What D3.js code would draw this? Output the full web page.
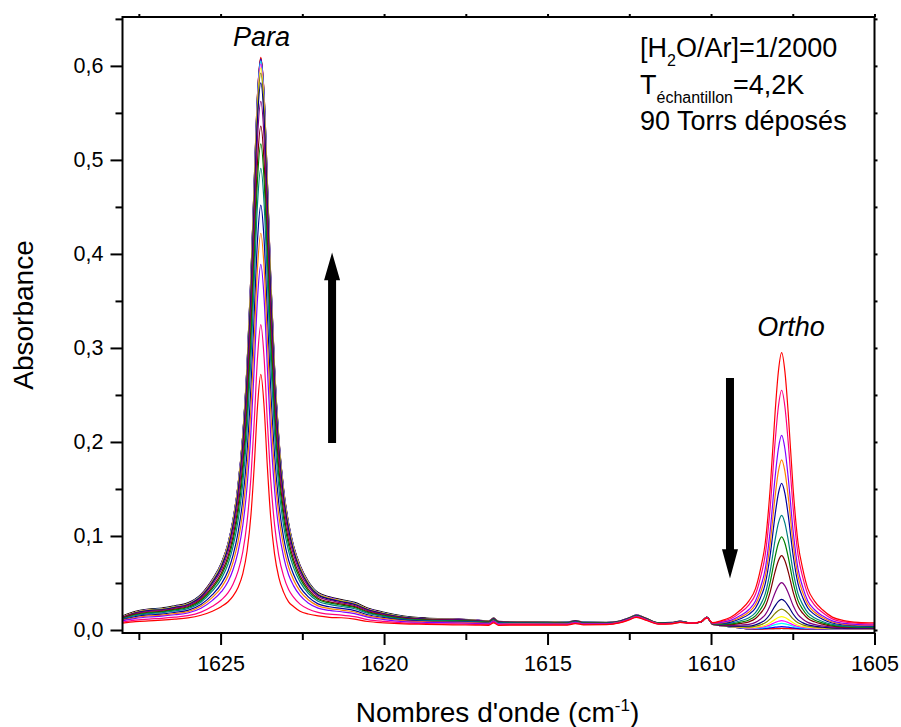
<!DOCTYPE html>
<html><head><meta charset="utf-8">
<script src="https://cdn.jsdelivr.net/npm/d3@7"></script>
<style>
body{margin:0;background:#fff;}
svg text{font-family:"Liberation Sans",Arial,Helvetica,sans-serif;fill:#000;}
</style></head><body>
<svg id="chart" width="901" height="727"></svg>
<script>
// ---------- DATA ----------
const wavenumbers = [1628.0,1627.6,1627.2,1626.8,1626.4,1626.0,1625.6,1625.25,1624.97,1624.77,1624.62,1624.47,1624.32,1624.19,1624.07,1623.97,1623.87,1623.77,1623.67,1623.57,1623.47,1623.35,1623.22,1623.07,1622.92,1622.77,1622.57,1622.32,1622.02,1621.67,1621.3,1620.9,1620.5,1620.0,1619.4,1618.7,
1617.9,1617.2,1616.8,1616.65,1616.5,1615.8,1615.0,1614.4,1614.15,1613.9,1613.2,1612.8,1612.5,1612.28,1612.0,1611.6,1611.2,1610.95,1610.6,1610.3,1610.13,1609.95,
1609.7,1609.4,1609.1,1608.84,1608.64,1608.49,1608.34,1608.19,1608.04,1607.94,1607.84,1607.74,1607.64,1607.49,1607.34,1607.19,1607.04,1606.84,1606.59,1606.29,1605.94,1605.5,1605.0];

const specRed = [0.0074,0.0088,0.0097,0.0105,0.0115,0.0128,0.0157,0.020,0.025,0.030,0.036,0.045,0.060,0.084,0.123,0.175,0.238,0.272,0.238,0.174,0.121,0.081,0.056,0.040,0.030,0.025,0.020,0.017,0.015,0.0135,0.013,0.0115,0.009,0.0075,0.0064,0.006,
0.0055,0.0052,0.005,0.0075,0.005,0.0052,0.0052,0.0052,0.0068,0.0055,0.0057,0.0075,0.0108,0.0135,0.0105,0.0063,0.0065,0.008,0.0072,0.0089,0.0129,0.0078,
0.0098,0.0135,0.0212,0.031,0.044,0.0642,0.0931,0.1508,0.2315,0.2748,0.295,0.2748,0.2315,0.1508,0.0931,0.0642,0.044,0.031,0.0215,0.0137,0.010,0.0082,0.0077];
const specPink = [0.0084,0.0104,0.0116,0.0124,0.0136,0.0152,0.019,0.0252,0.0322,0.0397,0.0487,0.062,0.0832,0.1151,0.1632,0.2226,0.2901,0.3249,0.2901,0.2217,0.1613,0.1121,0.0792,0.057,0.043,0.035,0.0275,0.0223,0.0188,0.0168,0.0159,0.0142,0.0111,0.0091,0.0076,0.0069,
0.0064,0.006,0.0057,0.0083,0.0056,0.0057,0.0057,0.0056,0.0073,0.0059,0.006,0.0078,0.0111,0.0139,0.0108,0.0065,0.0067,0.0082,0.0073,0.0089,0.0131,0.0076,
0.009,0.012,0.0185,0.0268,0.038,0.0555,0.0804,0.1303,0.2001,0.2375,0.255,0.2375,0.2001,0.1303,0.0804,0.0555,0.038,0.0268,0.0186,0.0118,0.0086,0.0071,0.0065];
const specViolet = [0.0097,0.0123,0.0138,0.0147,0.0162,0.0181,0.0231,0.0315,0.041,0.0515,0.0641,0.0825,0.1114,0.1527,0.2118,0.2801,0.3532,0.3889,0.3532,0.2795,0.2102,0.1497,0.1074,0.0775,0.0588,0.0472,0.0367,0.0288,0.0233,0.0208,0.0194,0.0174,0.0137,0.0111,0.009,0.0081,
0.0076,0.007,0.0066,0.0092,0.0064,0.0063,0.0062,0.0062,0.0078,0.0064,0.0064,0.0081,0.0115,0.0143,0.0112,0.0067,0.007,0.0084,0.0072,0.0088,0.0132,0.0073,
0.0081,0.0103,0.0153,0.0218,0.0309,0.0451,0.0653,0.1058,0.1625,0.1928,0.207,0.1928,0.1625,0.1058,0.0653,0.0451,0.0309,0.0218,0.0151,0.0097,0.007,0.0058,0.0054];
const specOrange = [0.0103,0.0133,0.015,0.0158,0.0175,0.0196,0.0252,0.0347,0.0455,0.0576,0.072,0.0931,0.1259,0.1721,0.2369,0.3098,0.3857,0.422,0.3857,0.3093,0.2354,0.1691,0.1219,0.0881,0.0669,0.0535,0.0414,0.0321,0.0257,0.0228,0.0212,0.0191,0.015,0.0122,0.0098,0.0087,
0.0082,0.0076,0.007,0.0097,0.0068,0.0067,0.0065,0.0064,0.0081,0.0066,0.0066,0.0083,0.0117,0.0145,0.0114,0.0068,0.0071,0.0085,0.0072,0.0088,0.0133,0.0071,
0.0076,0.0093,0.0136,0.0191,0.0271,0.0395,0.0572,0.0926,0.1421,0.1686,0.181,0.1686,0.1421,0.0926,0.0572,0.0395,0.0271,0.0191,0.0133,0.0085,0.0062,0.0052,0.0048];
const specRoyal = [0.0109,0.0142,0.016,0.0169,0.0187,0.0209,0.0271,0.0376,0.0496,0.0631,0.0793,0.1027,0.139,0.1897,0.2597,0.3368,0.4153,0.452,0.4153,0.3363,0.2582,0.1867,0.135,0.0977,0.0743,0.0592,0.0456,0.0352,0.0278,0.0247,0.0229,0.0206,0.0162,0.0131,0.0105,0.0092,
0.0087,0.008,0.0074,0.0102,0.0071,0.007,0.0068,0.0067,0.0084,0.0068,0.0068,0.0084,0.0119,0.0147,0.0116,0.0069,0.0072,0.0086,0.0072,0.0088,0.0133,0.007,
0.0072,0.0084,0.012,0.0166,0.0234,0.0341,0.0493,0.0798,0.1225,0.1453,0.156,0.1453,0.1225,0.0798,0.0493,0.0341,0.0234,0.0166,0.0115,0.0074,0.0054,0.0045,0.0043];
const specDarkCyan = [0.0117,0.0154,0.0174,0.0183,0.0203,0.0227,0.0295,0.0415,0.0549,0.0703,0.0887,0.1152,0.1562,0.2127,0.2894,0.372,0.4538,0.491,0.4538,0.3716,0.288,0.2097,0.1522,0.1102,0.084,0.0666,0.0512,0.0391,0.0306,0.0272,0.025,0.0226,0.0178,0.0143,0.0113,0.0099,
0.0094,0.0086,0.0079,0.0108,0.0076,0.0073,0.0072,0.007,0.0088,0.0071,0.0071,0.0086,0.0121,0.015,0.0118,0.0071,0.0073,0.0088,0.0073,0.0088,0.0134,0.0068,
0.0065,0.0073,0.0098,0.013,0.0184,0.0267,0.0386,0.0625,0.0958,0.1137,0.122,0.1137,0.0958,0.0625,0.0386,0.0267,0.0184,0.013,0.0091,0.0059,0.0043,0.0036,0.0035];
const specOlive = [0.0122,0.0162,0.0183,0.0192,0.0213,0.0239,0.0312,0.044,0.0584,0.0751,0.0949,0.1235,0.1676,0.2279,0.3091,0.3953,0.4794,0.517,0.4794,0.395,0.3078,0.2249,0.1636,0.1185,0.0903,0.0715,0.0549,0.0417,0.0324,0.0288,0.0264,0.0239,0.0188,0.0151,0.0119,0.0104,
0.0099,0.0091,0.0083,0.0111,0.0079,0.0076,0.0074,0.0072,0.009,0.0073,0.0072,0.0087,0.0123,0.0152,0.012,0.0072,0.0074,0.0089,0.0072,0.0087,0.0135,0.0067,
0.0062,0.0064,0.0083,0.0107,0.015,0.0218,0.0315,0.0508,0.0778,0.0922,0.099,0.0922,0.0778,0.0508,0.0315,0.0218,0.015,0.0107,0.0075,0.0049,0.0037,0.0031,0.003];
const specWine = [0.0126,0.0168,0.0189,0.0199,0.0221,0.0247,0.0324,0.0458,0.061,0.0785,0.0994,0.1296,0.1759,0.239,0.3234,0.4122,0.498,0.5359,0.498,0.412,0.3222,0.236,0.1719,0.1246,0.095,0.0751,0.0576,0.0436,0.0338,0.0299,0.0275,0.0248,0.0196,0.0157,0.0124,0.0107,
0.0102,0.0093,0.0085,0.0114,0.0081,0.0078,0.0075,0.0074,0.0091,0.0075,0.0073,0.0088,0.0124,0.0153,0.0121,0.0072,0.0075,0.0089,0.0073,0.0087,0.0135,0.0065,
0.0058,0.0058,0.007,0.0087,0.0122,0.0176,0.0252,0.0406,0.0621,0.0736,0.079,0.0736,0.0621,0.0406,0.0252,0.0176,0.0122,0.0087,0.0062,0.0041,0.0031,0.0027,0.0026];
const specPurple = [0.0131,0.0176,0.0199,0.0208,0.0231,0.0259,0.034,0.0484,0.0646,0.0834,0.1057,0.138,0.1874,0.2545,0.3434,0.4359,0.5239,0.5622,0.5239,0.4357,0.3423,0.2515,0.1834,0.133,0.1015,0.0801,0.0613,0.0463,0.0357,0.0316,0.0289,0.0261,0.0206,0.0165,0.0129,0.0112,
0.0107,0.0098,0.0089,0.0118,0.0084,0.008,0.0078,0.0076,0.0094,0.0077,0.0075,0.009,0.0125,0.0155,0.0122,0.0073,0.0076,0.009,0.0073,0.0086,0.0135,0.0063,
0.0053,0.0048,0.0053,0.0059,0.0081,0.0115,0.0164,0.0261,0.0396,0.0469,0.0503,0.0469,0.0396,0.0261,0.0164,0.0115,0.0081,0.0059,0.0043,0.003,0.0024,0.0021,0.0021];
const specNavy = [0.0135,0.0182,0.0206,0.0215,0.0239,0.0268,0.0353,0.0504,0.0673,0.087,0.1105,0.1444,0.1962,0.2662,0.3585,0.4538,0.5434,0.582,0.5434,0.4537,0.3574,0.2632,0.1922,0.1394,0.1064,0.0839,0.0642,0.0483,0.0371,0.0328,0.03,0.0271,0.0214,0.0172,0.0134,0.0115,
0.011,0.0101,0.0091,0.0121,0.0087,0.0082,0.008,0.0078,0.0096,0.0078,0.0076,0.0091,0.0126,0.0156,0.0123,0.0074,0.0077,0.0091,0.0072,0.0086,0.0135,0.0062,
0.005,0.0042,0.0041,0.0041,0.0055,0.0076,0.0108,0.017,0.0257,0.0304,0.0326,0.0304,0.0257,0.017,0.0108,0.0076,0.0055,0.0041,0.003,0.0022,0.0018,0.0016,0.0017];
const specDarkYellow = [0.0137,0.0185,0.0209,0.0219,0.0243,0.0272,0.0359,0.0514,0.0687,0.0889,0.113,0.1476,0.2006,0.2721,0.3662,0.4629,0.5534,0.5922,0.5534,0.4628,0.3652,0.2691,0.1966,0.1426,0.1089,0.0858,0.0656,0.0493,0.0378,0.0335,0.0306,0.0277,0.0218,0.0175,0.0136,0.0117,
0.0112,0.0102,0.0093,0.0123,0.0088,0.0083,0.0081,0.0079,0.0097,0.0079,0.0077,0.0091,0.0127,0.0157,0.0124,0.0074,0.0077,0.0091,0.0072,0.0085,0.0135,0.0061,
0.0049,0.0039,0.0035,0.0031,0.004,0.0055,0.0076,0.0118,0.0177,0.0208,0.0223,0.0208,0.0177,0.0118,0.0076,0.0055,0.004,0.0031,0.0024,0.0018,0.0016,0.0014,0.0015];
const specYellow = [0.0138,0.0187,0.0211,0.0221,0.0246,0.0275,0.0363,0.0519,0.0695,0.09,0.1143,0.1494,0.2031,0.2755,0.3706,0.468,0.559,0.5979,0.559,0.468,0.3695,0.2725,0.1991,0.1444,0.1103,0.0869,0.0664,0.0499,0.0382,0.0338,0.0309,0.0279,0.0221,0.0177,0.0137,0.0118,
0.0113,0.0103,0.0094,0.0123,0.0089,0.0084,0.0081,0.0079,0.0097,0.0079,0.0077,0.0091,0.0127,0.0157,0.0124,0.0075,0.0078,0.0092,0.0072,0.0085,0.0134,0.006,
0.0047,0.0036,0.003,0.0023,0.0029,0.0038,0.0051,0.0077,0.0113,0.0133,0.0142,0.0133,0.0113,0.0077,0.0051,0.0038,0.0029,0.0023,0.0019,0.0015,0.0014,0.0013,0.0014];
const specMagenta = [0.0139,0.0188,0.0213,0.0222,0.0247,0.0277,0.0366,0.0523,0.07,0.0907,0.1153,0.1507,0.2049,0.2778,0.3736,0.4716,0.563,0.6019,0.563,0.4716,0.3726,0.2748,0.2009,0.1457,0.1113,0.0877,0.067,0.0503,0.0385,0.0341,0.0311,0.0281,0.0222,0.0178,0.0138,0.0119,
0.0114,0.0104,0.0094,0.0124,0.0089,0.0084,0.0081,0.0079,0.0097,0.0079,0.0078,0.0092,0.0128,0.0158,0.0125,0.0075,0.0078,0.0092,0.0072,0.0085,0.0135,0.006,
0.0046,0.0035,0.0027,0.0018,0.0022,0.0029,0.0037,0.0055,0.008,0.0093,0.0099,0.0093,0.008,0.0055,0.0037,0.0029,0.0022,0.0018,0.0015,0.0013,0.0012,0.0012,0.0013];
const specCyan = [0.0139,0.0189,0.0214,0.0224,0.0248,0.0278,0.0367,0.0526,0.0704,0.0913,0.116,0.1517,0.2062,0.2796,0.3759,0.4744,0.566,0.605,0.566,0.4744,0.3749,0.2766,0.2022,0.1467,0.112,0.0882,0.0674,0.0506,0.0387,0.0342,0.0313,0.0283,0.0223,0.0179,0.0139,0.0119,
0.0114,0.0104,0.0094,0.0124,0.009,0.0085,0.0082,0.008,0.0098,0.008,0.0078,0.0092,0.0128,0.0158,0.0125,0.0075,0.0078,0.0092,0.0072,0.0085,0.0135,0.006,
0.0046,0.0034,0.0025,0.0015,0.0018,0.0022,0.0028,0.004,0.0057,0.0066,0.007,0.0066,0.0057,0.004,0.0028,0.0022,0.0018,0.0015,0.0013,0.0012,0.0011,0.0011,0.0012];
const specBlue = [0.014,0.0189,0.0214,0.0224,0.0249,0.0279,0.0369,0.0528,0.0707,0.0916,0.1165,0.1524,0.2071,0.2808,0.3775,0.4762,0.568,0.607,0.568,0.4762,0.3765,0.2778,0.2031,0.1474,0.1125,0.0886,0.0677,0.0508,0.0389,0.0344,0.0314,0.0284,0.0224,0.018,0.014,0.012,
0.0115,0.0105,0.0095,0.0125,0.009,0.0085,0.0082,0.008,0.0098,0.008,0.0078,0.0092,0.0128,0.0158,0.0125,0.0075,0.0078,0.0092,0.0072,0.0085,0.0135,0.006,
0.0045,0.0033,0.0023,0.0012,0.0013,0.0015,0.0018,0.0023,0.003,0.0033,0.0035,0.0033,0.003,0.0023,0.0018,0.0015,0.0013,0.0012,0.0011,0.001,0.001,0.001,0.0011];
const specRed2 = [0.014,0.019,0.0215,0.0225,0.025,0.028,0.037,0.053,0.071,0.092,0.117,0.153,0.208,0.282,0.379,0.478,0.570,0.609,0.570,0.478,0.378,0.279,0.204,0.148,0.113,0.089,0.068,0.051,0.039,0.0345,0.0315,0.0285,0.0225,0.018,0.014,0.012,
0.0115,0.0105,0.0095,0.0125,0.009,0.0085,0.0082,0.008,0.0098,0.008,0.0078,0.0092,0.0128,0.0158,0.0125,0.0075,0.0078,0.0092,0.0072,0.0085,0.0135,0.006,
0.0045,0.0032,0.0022,0.001,0.001,0.0011,0.0012,0.0014,0.0016,0.0017,0.0018,0.0017,0.0016,0.0014,0.0012,0.0011,0.001,0.001,0.001,0.001,0.001,0.001,0.0011];
const specBlack = [0.0148,0.0198,0.0223,0.0233,0.0258,0.0288,0.0378,0.0538,0.0718,0.0925,0.1175,0.1528,0.2075,0.2812,0.3785,0.4775,0.5695,0.608,0.5695,0.4772,0.3775,0.2795,0.2048,0.1488,0.1138,0.0898,0.0688,0.0518,0.0398,0.0353,0.0323,0.0293,0.0233,0.0188,0.0148,0.0127,
0.0118,0.0108,0.0098,0.0128,0.0093,0.0088,0.0085,0.0083,0.0101,0.0083,0.0081,0.0095,0.0131,0.0161,0.0128,0.0078,0.0081,0.0095,0.0075,0.0088,0.0138,0.0063,
0.0046,0.0033,0.0023,0.0011,0.0011,0.0012,0.0013,0.0014,0.0015,0.0015,0.0016,0.0015,0.0015,0.0014,0.0013,0.0012,0.0011,0.0011,0.001,0.001,0.001,0.001,0.0011];

// drawing order (first drawn at bottom)
const seriesValues = [specBlack, specRed2, specBlue, specCyan, specMagenta, specYellow, specDarkYellow, specNavy, specPurple, specWine, specOlive, specDarkCyan, specRoyal, specOrange, specViolet, specPink, specRed];
const seriesColors = ["#000000","#FF0000","#0000FF","#00FFFF","#FF00FF","#FFFF00","#808000","#000080","#800080","#800000","#008000","#008080","#0000A0","#FF8000","#8000FF","#FF0080","#FF0000"];

const xMajorTicks = [1625,1620,1615,1610,1605];
const xMinorTicks = [1627.5,1622.5,1617.5,1612.5,1607.5];
const xTickLabels = ["1625","1620","1615","1610","1605"];
const yMajorTicks = [0,0.1,0.2,0.3,0.4,0.5,0.6];
const yMinorTicks = [0.05,0.15,0.25,0.35,0.45,0.55,0.65];
const yTickLabels = ["0,0","0,1","0,2","0,3","0,4","0,5","0,6"];

// annotations in data space
const upArrow = {x:1621.59, y0:0.199, yHead:0.372, yTip:0.4015};
const downArrow = {x:1609.42, y0:0.268, yHead:0.086, yTip:0.0548};
const peakLabels = [{text:"Para", x:1623.75, y:0.621}, {text:"Ortho", x:1607.55, y:0.3125}];

// ---------- CHART ----------
const svg = d3.select("#chart");
const L = 122.5, R = 874.5, T = 17, B = 633;
const x = d3.scaleLinear().domain([1628, 1605]).range([L, R]);
const y = d3.scaleLinear().domain([-0.0032, 0.652]).range([B, T]);

svg.append("defs").append("clipPath").attr("id","clip")
  .append("rect").attr("x",L).attr("y",T).attr("width",R-L).attr("height",B-T);

const line = d3.line().x((d,i)=>x(wavenumbers[i])).y(d=>y(d)).curve(d3.curveMonotoneX);
const g = svg.append("g").attr("clip-path","url(#clip)");
seriesValues.forEach((vals,k)=>{
  g.append("path").attr("d", line(vals)).attr("fill","none")
   .attr("stroke", seriesColors[k]).attr("stroke-width",1.2).attr("stroke-linejoin","round");
});

function styleAxis(sel){
  sel.select(".domain").remove();
  sel.selectAll(".tick line").attr("stroke","#000").attr("stroke-width",2);
}
const tickFont = 21.5;
// bottom
svg.append("g").attr("transform",`translate(0,${B})`)
  .call(d3.axisBottom(x).tickValues(xMajorTicks).tickSize(12).tickPadding(11).tickFormat((d,i)=>xTickLabels[i]))
  .call(styleAxis)
  .selectAll("text").attr("font-size",tickFont).attr("font-family","Liberation Sans, Arial, sans-serif").attr("fill","#000");
svg.append("g").attr("transform",`translate(0,${B})`)
  .call(d3.axisBottom(x).tickValues(xMinorTicks).tickSize(7).tickFormat(""))
  .call(styleAxis);
// left
svg.append("g").attr("transform",`translate(${L},0)`)
  .call(d3.axisLeft(y).tickValues(yMajorTicks).tickSize(12).tickPadding(7).tickFormat((d,i)=>yTickLabels[i]))
  .call(styleAxis)
  .selectAll("text").attr("font-size",tickFont).attr("font-family","Liberation Sans, Arial, sans-serif").attr("fill","#000");
svg.append("g").attr("transform",`translate(${L},0)`)
  .call(d3.axisLeft(y).tickValues(yMinorTicks).tickSize(7).tickFormat(""))
  .call(styleAxis);
// top & right small ticks
svg.append("g").attr("transform",`translate(0,${T})`)
  .call(d3.axisTop(x).tickValues(xMajorTicks.concat(xMinorTicks)).tickSize(3).tickFormat(""))
  .call(styleAxis);
svg.append("g").attr("transform",`translate(${R},0)`)
  .call(d3.axisRight(y).tickValues(yMajorTicks.concat(yMinorTicks)).tickSize(3).tickFormat(""))
  .call(styleAxis);

// frame
svg.append("rect").attr("x",L).attr("y",T).attr("width",R-L).attr("height",B-T)
  .attr("fill","none").attr("stroke","#000").attr("stroke-width",2);

// arrows
function drawArrow(a){
  const cx = x(a.x), shaftHalf = 4, headHalf = 8;
  const y0 = y(a.y0), yh = y(a.yHead), yt = y(a.yTip);
  const p = d3.path();
  p.moveTo(cx-shaftHalf, y0); p.lineTo(cx-shaftHalf, yh); p.lineTo(cx-headHalf, yh);
  p.lineTo(cx, yt); p.lineTo(cx+headHalf, yh); p.lineTo(cx+shaftHalf, yh); p.lineTo(cx+shaftHalf, y0); p.closePath();
  svg.append("path").attr("d", p.toString()).attr("fill","#000");
}
drawArrow(upArrow); drawArrow(downArrow);

// peak labels
peakLabels.forEach(l=>{
  svg.append("text").attr("x",x(l.x)).attr("y",y(l.y)).attr("text-anchor","middle")
    .attr("font-size",27).attr("font-style","italic").text(l.text);
});

// legend text
const t1 = svg.append("text").attr("x",640).attr("y",57).attr("font-size",27);
t1.append("tspan").text("[H");
t1.append("tspan").attr("dy",9).attr("font-size",16).text("2");
t1.append("tspan").attr("dy",-9).text("O/Ar]=1/2000");
const t2 = svg.append("text").attr("x",640).attr("y",94).attr("font-size",27);
t2.append("tspan").text("T");
t2.append("tspan").attr("dy",8.5).attr("font-size",16).text("échantillon");
t2.append("tspan").attr("dy",-8.5).text("=4,2K");
svg.append("text").attr("x",640).attr("y",129.5).attr("font-size",27).text("90 Torrs déposés");

// axis titles
const xt = svg.append("text").attr("x",497.5).attr("y",722).attr("text-anchor","middle").attr("font-size",28);
xt.append("tspan").text("Nombres d'onde (cm");
xt.append("tspan").attr("dy",-11).attr("font-size",17).text("-1");
xt.append("tspan").attr("dy",11).text(")");
svg.append("text").attr("transform","translate(33,315) rotate(-90)").attr("text-anchor","middle")
  .attr("font-size",28).text("Absorbance");
</script>
</body></html>
